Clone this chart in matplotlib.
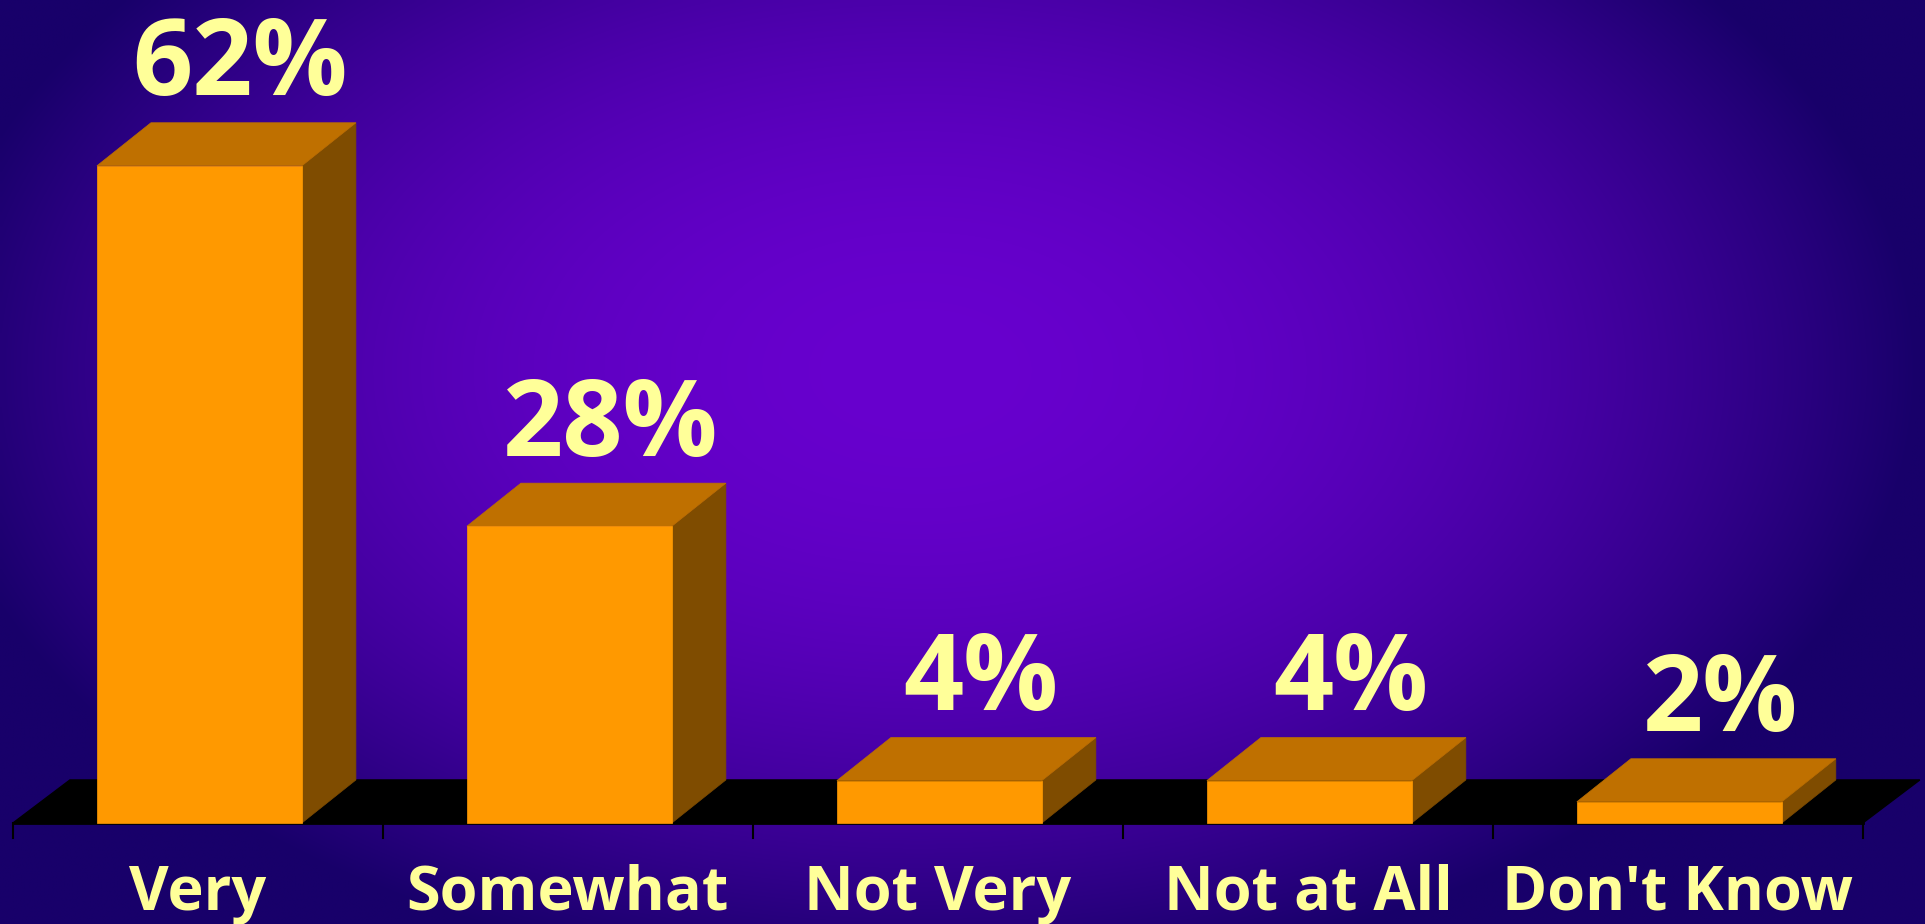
import numpy as np
import matplotlib
matplotlib.use("Agg")
import matplotlib.pyplot as plt
from matplotlib.patches import Polygon

# ---- data ----
categories = ["Very", "Somewhat", "Not Very", "Not at All", "Don't Know"]
values = [62, 28, 4, 4, 2]
value_labels = ["62%", "28%", "4%", "4%", "2%"]

# ---- style ----
W, H, DPI = 19.25, 9.24, 100
FRONT = "#FF9900"
TOP = "#BF7000"
SIDE = "#7F4C00"
TEXT = "#FFFF99"
FONT = ["Open Sans", "DejaVu Sans"]
HALF_W = 0.277      # half bar width (category units)
DX = 0.146          # 3D depth in x (category units)
DY = 4.06           # 3D depth in y (value units)
FLOOR_DX = 0.154

fig = plt.figure(figsize=(W, H), dpi=DPI)
ax = fig.add_axes([0, 0, 1, 1])
ax.set_xlim(-0.535, 4.668)
ax.set_ylim(-9.53, 77.64)
ax.axis("off")

# background gradient
ny, nx = 240, 500
yy, xx = np.mgrid[0:ny, 0:nx]
px = xx / (nx - 1) * 1925
py = yy / (ny - 1) * 924
cx, cy = 920, 370
d = np.sqrt(((px - cx) / 1000) ** 2 + ((py - cy) / 620) ** 2)
d = np.clip(d, 0, 1) ** 2
c0 = np.array([104, 0, 206]) / 255
c1 = np.array([24, 0, 106]) / 255
img = c0[None, None, :] * (1 - d[..., None]) + c1[None, None, :] * d[..., None]
ax.imshow(img, extent=[0, 1, 0, 1], transform=ax.transAxes, aspect="auto",
          zorder=0, interpolation="bilinear")

n = len(categories)
# floor
x0, x1 = -0.5, n - 0.5
ax.add_patch(Polygon([(x0, 0), (x1, 0), (x1 + FLOOR_DX, DY), (x0 + FLOOR_DX, DY)],
                     closed=True, facecolor="black", edgecolor="black", lw=1, zorder=1))
ax.plot([x0, x1], [0, 0], color="black", lw=2, zorder=1)
for b in np.arange(n + 1) - 0.5:
    ax.plot([b, b], [0, -1.4], color="black", lw=1.5, zorder=1)

# bars
for i, v in enumerate(values):
    l, r = i - HALF_W + 0.004, i + HALF_W + 0.004
    ax.add_patch(Polygon([(r, 0), (r + DX, DY), (r + DX, v + DY), (r, v)],
                         closed=True, facecolor=SIDE, edgecolor=SIDE, lw=0.5, zorder=2))
    ax.add_patch(Polygon([(l, v), (r, v), (r + DX, v + DY), (l + DX, v + DY)],
                         closed=True, facecolor=TOP, edgecolor=TOP, lw=0.5, zorder=2))
    ax.add_patch(Polygon([(l, 0), (r, 0), (r, v), (l, v)],
                         closed=True, facecolor=FRONT, edgecolor=FRONT, lw=0.5, zorder=3))
    ax.text(i + 0.115, v + DY + 2.6, value_labels[i], ha="center", va="baseline",
            color=TEXT, fontsize=76, fontweight="bold", family=FONT, zorder=4)
    ax.text(i, -8.2, categories[i], ha="center", va="baseline",
            color=TEXT, fontsize=44, fontweight="bold", family=FONT, zorder=4)

fig.savefig("out.png", dpi=DPI)
